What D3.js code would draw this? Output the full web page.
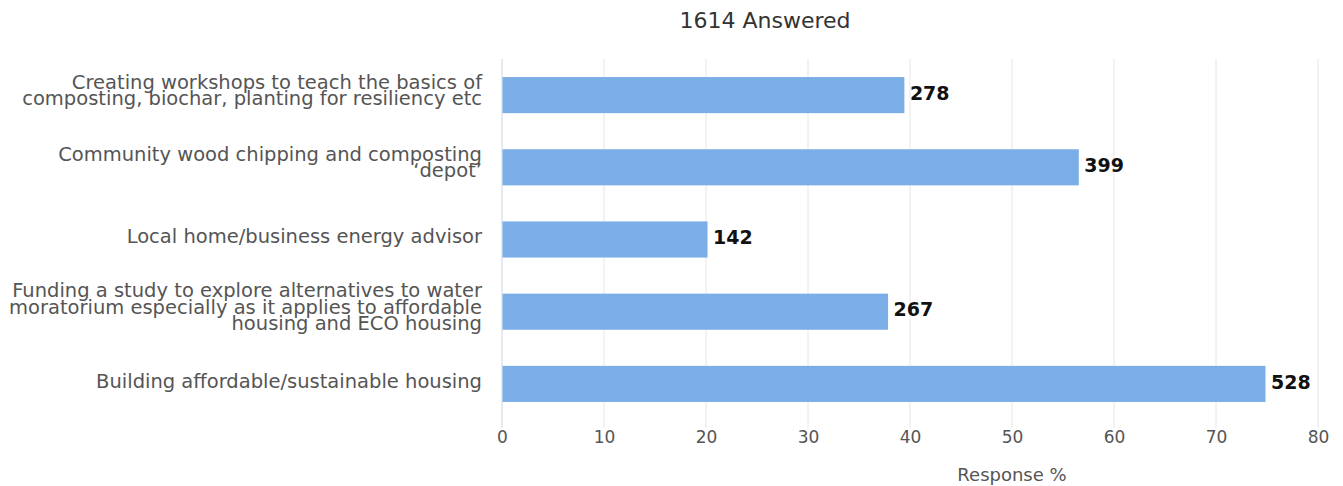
<!DOCTYPE html>
<html><head><meta charset="utf-8">
<script src="https://cdn.jsdelivr.net/npm/d3@7"></script>
<style>body{margin:0;background:#fff;}svg{display:block;}</style>
</head><body>
<svg id="c" width="1343" height="486"></svg>
<script>
const categories = [
  ["Creating workshops to teach the basics of", "composting, biochar, planting for resiliency etc"],
  ["Community wood chipping and composting", "\u2018depot\u2019"],
  ["Local home/business energy advisor"],
  ["Funding a study to explore alternatives to water", "moratorium especially as it applies to affordable", "housing and ECO housing"],
  ["Building affordable/sustainable housing"]
];
const counts = [278, 399, 142, 267, 528];
const percents = [39.4, 56.5, 20.1, 37.8, 74.8];
const ticks = [0, 10, 20, 30, 40, 50, 60, 70, 80];
const title = "1614 Answered";
const axisTitle = "Response %";

const svg = d3.select("#c");
const font = "'DejaVu Sans', Verdana, sans-serif";
const x = d3.scaleLinear().domain([0, 80]).range([502, 1318]);
const y = d3.scaleBand().domain(d3.range(categories.length)).range([59, 420])
  .paddingInner(0.5).paddingOuter(0.25);

// gridlines
svg.append("g").selectAll("line").data(ticks).join("line")
  .attr("x1", d => x(d)).attr("x2", d => x(d))
  .attr("y1", 59).attr("y2", 428)
  .attr("stroke", d => d === 0 ? "#cdd5dd" : "#e6e6e6").attr("stroke-width", 1);

// bars
svg.append("g").selectAll("rect").data(percents).join("rect")
  .attr("x", x(0) + 0.5).attr("y", (d, i) => y(i))
  .attr("width", d => x(d) - x(0)).attr("height", y.bandwidth())
  .attr("fill", "#7baee7");

// value labels
svg.append("g").selectAll("text").data(percents).join("text")
  .attr("x", d => x(d) + 6).attr("y", (d, i) => y(i) + y.bandwidth() / 2 - 2)
  .attr("dy", "0.35em")
  .attr("font-family", font).attr("font-size", 19).attr("font-weight", "bold")
  .attr("fill", "#111").text((d, i) => counts[i]);

// category labels
const lab = svg.append("g").selectAll("text").data(categories).join("text")
  .attr("text-anchor", "end").attr("font-family", font).attr("font-size", 19.5)
  .attr("fill", "#555");
lab.each(function (lines, i) {
  const t = d3.select(this);
  const lh = 16.5;
  const cy = y(i) + y.bandwidth() / 2;
  const start = cy - (lines.length - 1) * lh / 2 - (lines.length > 1 ? 5 : 3);
  lines.forEach((l, j) => {
    t.append("tspan").attr("x", 482).attr("y", start + j * lh).attr("dy", "0.35em").text(l);
  });
});

// x axis ticks
const xa = svg.append("g").attr("transform", "translate(0,420)")
  .call(d3.axisBottom(x).tickValues(ticks).tickSize(0).tickPadding(11));
xa.select(".domain").remove();
xa.selectAll("text").attr("font-family", font).attr("font-size", 17).attr("fill", "#555");

// titles
svg.append("text").attr("x", 765).attr("y", 28).attr("text-anchor", "middle")
  .attr("font-family", font).attr("font-size", 22).attr("fill", "#333").text(title);
svg.append("text").attr("x", x(50)).attr("y", 481).attr("text-anchor", "middle")
  .attr("font-family", font).attr("font-size", 18).attr("fill", "#555").text(axisTitle);
</script>
</body></html>
